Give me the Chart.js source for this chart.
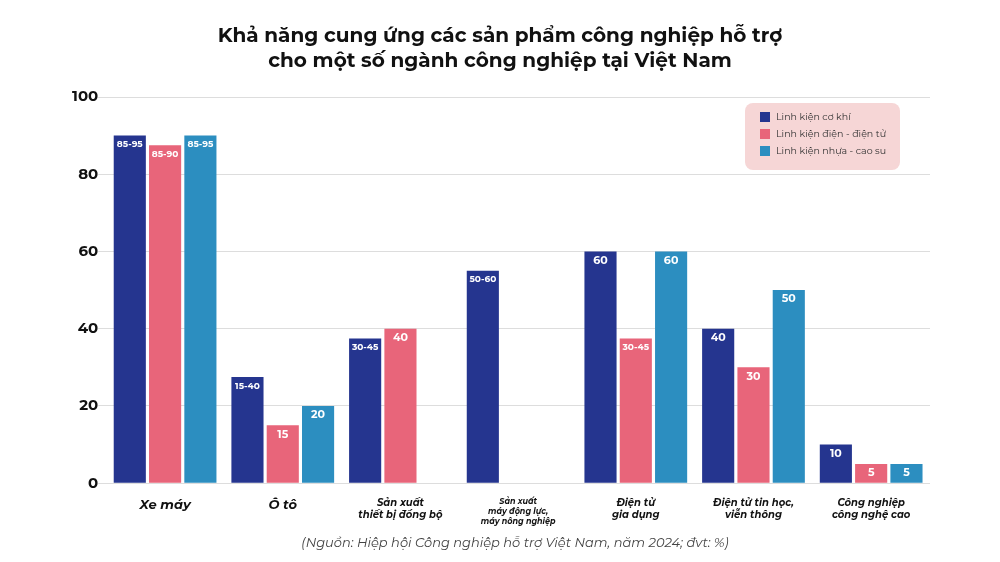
<!DOCTYPE html>
<html><head><meta charset="utf-8">
<script src="https://cdn.jsdelivr.net/npm/chart.js@4"></script>
<style>body{margin:0;background:#fff}#wrap{width:1000px;height:562px}</style>
</head><body><div id="wrap"><canvas id="c"></canvas></div>
<script>
const categories = [["Xe máy"], ["Ô tô"], ["Sản xuất", "thiết bị đồng bộ"], ["Sản xuất", "máy động lực,", "máy nông nghiệp"], ["Điện tử", "gia dụng"], ["Điện tử tin học,", "viễn thông"], ["Công nghiệp", "công nghệ cao"]]
const coKhi = [90, 27.5, 37.5, 55, 60, 40, 10]
const dienTu = [87.5, 15, 40, null, 37.5, 30, 5]
const nhuaCaoSu = [90, 20, null, null, 60, 50, 5]
const coKhiText = ["85-95", "15-40", "30-45", "50-60", "60", "40", "10"]
const dienTuText = ["85-90", "15", "40", "", "30-45", "30", "5"]
const nhuaText = ["85-95", "20", "", "", "60", "50", "5"]
const seriesNames = ["Linh kiện cơ khí", "Linh kiện điện - điện tử", "Linh kiện nhựa - cao su"]
const colors = ["#25358f", "#e8657a", "#2c8ec0"]
const texts = [coKhiText, dienTuText, nhuaText]
const F = "Montserrat, Inter, 'Noto Sans', sans-serif"

const decor = {
  id: "decor",
  afterDatasetsDraw(chart) {
    const ctx = chart.ctx
    ctx.save()
    // value labels
    chart.data.datasets.forEach((ds, i) => {
      chart.getDatasetMeta(i).data.forEach((bar, j) => {
        const t = texts[i][j]
        if (!t || ds.data[j] == null) return
        const big = t.length <= 2
        ctx.font = "bold " + (big ? 11 : 9) + "px " + F
        ctx.fillStyle = "#fff"
        ctx.textAlign = "center"
        ctx.textBaseline = "middle"
        ctx.fillText(t, bar.x, bar.y + 9)
      })
    })
    // legend box
    ctx.fillStyle = "#f6d6d6"
    ctx.beginPath()
    ctx.roundRect(745, 103, 155, 67, 8)
    ctx.fill()
    seriesNames.forEach((n, i) => {
      const y = 117 + i * 17
      ctx.fillStyle = colors[i]
      ctx.fillRect(760, y - 5, 10, 10)
      ctx.fillStyle = "#333"
      ctx.font = "9.5px " + F
      ctx.textAlign = "left"
      ctx.textBaseline = "middle"
      ctx.fillText(n, 776, y)
    })
    // title
    ctx.fillStyle = "#111"
    ctx.textAlign = "center"
    ctx.font = "bold 20px " + F
    ctx.fillText("Khả năng cung ứng các sản phẩm công nghiệp hỗ trợ", 500, 36)
    ctx.fillText("cho một số ngành công nghiệp tại Việt Nam", 500, 61)
    ctx.font = "italic 13px " + F
    ctx.fillStyle = "#444"
    ctx.fillText("(Nguồn: Hiệp hội Công nghiệp hỗ trợ Việt Nam, năm 2024; đvt: %)", 515, 543)
    ctx.restore()
  }
}

new Chart(document.getElementById("c"), {
  type: "bar",
  data: {
    labels: categories,
    datasets: [
      { label: seriesNames[0], data: coKhi, backgroundColor: colors[0] },
      { label: seriesNames[1], data: dienTu, backgroundColor: colors[1] },
      { label: seriesNames[2], data: nhuaCaoSu, backgroundColor: colors[2] },
    ],
  },
  options: {
    responsive: true,
    maintainAspectRatio: false,
    animation: false,
    categoryPercentage: 0.9,
    barPercentage: 0.91,
    layout: { padding: { top: 97, left: 72, right: 70, bottom: 30 } },
    plugins: { legend: { display: false }, tooltip: { enabled: false } },
    scales: {
      x: {
        grid: { display: false },
        border: { display: false },
        ticks: {
          color: "#111",
          maxRotation: 0,
          padding: 6,
          font: c => ({ family: F, weight: "bold", style: "italic", size: c.index <= 1 ? 13 : c.index === 3 ? 8 : 10 }),
        },
      },
      y: {
        min: 0, max: 100,
        ticks: { stepSize: 20, color: "#111", padding: 0, font: { family: F, weight: "bold", size: 15 } },
        grid: { color: "#dddddd" },
        border: { display: false },
      },
    },
  },
  plugins: [decor],
})
</script></body></html>
